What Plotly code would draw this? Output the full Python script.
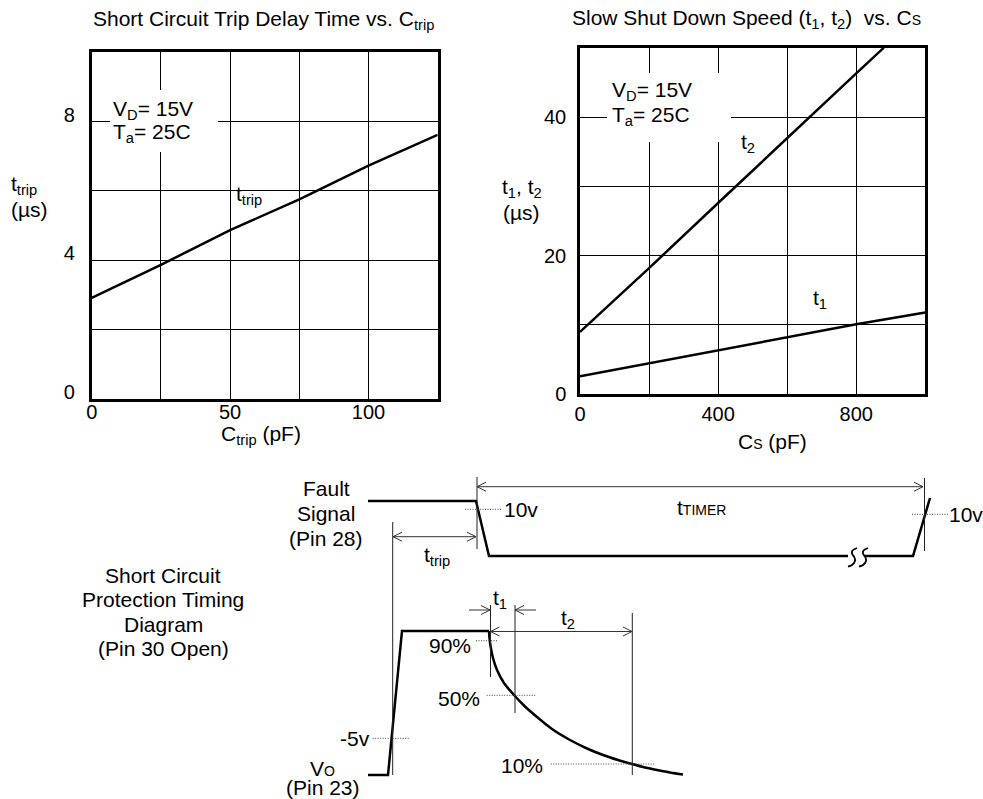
import plotly.graph_objects as go

W, H = 983, 799
FONT = "Liberation Sans, Arial, Helvetica, sans-serif"
BLACK = "#000000"

# ---------------- Chart 1: Short Circuit Trip Delay Time vs. Ctrip ----------------
ctrip_pf = [0, 25, 50, 75, 100, 125]
ttrip_us = [2.92, 3.87, 4.87, 5.76, 6.73, 7.62]
c1_xticks = [0, 25, 50, 75, 100, 125]
c1_xlabels = ["0", "", "50", "", "100", ""]
c1_yticks = [0, 2, 4, 6, 8, 10]
c1_ylabels = ["0", "", "4", "", "8", ""]

# ---------------- Chart 2: Slow Shut Down Speed (t1, t2) vs. Cs ----------------
cs_t1_pf = [0, 200, 400, 600, 800, 1000]
t1_us = [2.6, 4.5, 6.4, 8.2, 10.1, 11.8]
cs_t2_pf = [0, 200, 400, 600, 800, 880]
t2_us = [9.0, 18.2, 27.6, 37.0, 46.3, 50.0]
c2_xticks = [0, 200, 400, 600, 800, 1000]
c2_xlabels = ["0", "", "400", "", "800", ""]
c2_yticks = [0, 10, 20, 30, 40, 50]
c2_ylabels = ["0", "", "20", "", "40", ""]

# ---------------- Timing diagram (diagram units = page pixels) ----------------
fault_a_x = [368, 476, 489, 848]
fault_a_y = [501, 501, 556, 556]
fault_b_x = [865, 913, 930]
fault_b_y = [556, 556, 498]
break1_x = [857, 852.5, 852, 854.5, 855, 852, 848]
break1_y = [548, 550.5, 553.5, 557.5, 561, 565, 566.5]
break_dx = 11
pulse_x = [368, 388, 402, 489]
pulse_y = [775, 775, 631, 631]
decay_x = [489, 489.5, 490.7, 493, 497, 504, 514, 525, 537, 552, 570, 587, 603, 618, 632, 645, 657, 670, 683]
decay_y = [631, 638, 647, 658, 670, 683, 695, 706.5, 717, 729, 740, 748.5, 755, 760, 764, 767.5, 770, 772.5, 774.5]

# thin vertical markers: x, y_top, y_bottom
vmark_x = [477, 924.5, 392.7, 490.5, 515, 632.3]
vmark_top = [477, 478, 522, 605, 605, 613]
vmark_bot = [549, 551, 775, 677, 713, 775]

# dotted level lines: x0, x1, y
dot_x0 = [465, 912, 372.7, 476, 486.7, 550.7]
dot_x1 = [501.7, 948, 409.3, 498.3, 536, 655]
dot_y = [509.3, 514.3, 738.3, 640.7, 695.3, 764]

# dimension arrows: x_start, x_end, y, head at start, head at end
arr_x0 = [477, 393, 469, 536, 490.5]
arr_x1 = [923, 476, 490, 515, 632]
arr_y = [486.7, 536.7, 610, 610, 631.5]
arr_h0 = [True, True, False, False, True]
arr_h1 = [True, True, True, True, True]

fig = go.Figure()

# chart traces
fig.add_trace(go.Scatter(x=ctrip_pf, y=ttrip_us, mode="lines",
                         line=dict(color=BLACK, width=2.5), xaxis="x", yaxis="y",
                         hoverinfo="skip"))
fig.add_trace(go.Scatter(x=cs_t2_pf, y=t2_us, mode="lines",
                         line=dict(color=BLACK, width=2.5), xaxis="x2", yaxis="y2",
                         hoverinfo="skip"))
fig.add_trace(go.Scatter(x=cs_t1_pf, y=t1_us, mode="lines",
                         line=dict(color=BLACK, width=2.5), xaxis="x2", yaxis="y2",
                         hoverinfo="skip"))

# diagram traces
def dline(xs, ys, width=2.5, color=BLACK, dash=None, shape="linear"):
    fig.add_trace(go.Scatter(x=xs, y=ys, mode="lines",
                             line=dict(color=color, width=width, dash=dash, shape=shape),
                             xaxis="x3", yaxis="y3", hoverinfo="skip"))

dline(fault_a_x, fault_a_y)
dline(fault_b_x, fault_b_y)
dline(pulse_x, pulse_y)
dline(decay_x, decay_y, shape="spline")
dline(break1_x, break1_y, width=1.8, shape="spline")
dline([v + break_dx for v in break1_x], break1_y, width=1.8, shape="spline")

vx, vy = [], []
for x, t, b in zip(vmark_x, vmark_top, vmark_bot):
    vx += [x, x, None]
    vy += [t, b, None]
dline(vx, vy, width=1, color="#222222")

dx, dy = [], []
for a, b, y in zip(dot_x0, dot_x1, dot_y):
    dx += [a, b, None]
    dy += [y, y, None]
dline(dx, dy, width=1, color="#444444", dash="1px,1.5px")

ax_, ay_ = [], []
HL, HW = 9, 4.5
for x0, x1, y, h0, h1 in zip(arr_x0, arr_x1, arr_y, arr_h0, arr_h1):
    ax_ += [x0, x1, None]
    ay_ += [y, y, None]
    d = 1 if x1 > x0 else -1
    if h1:
        ax_ += [x1 - d * HL, x1, x1 - d * HL, None]
        ay_ += [y - HW, y, y + HW, None]
    if h0:
        ax_ += [x0 + d * HL, x0, x0 + d * HL, None]
        ay_ += [y - HW, y, y + HW, None]
dline(ax_, ay_, width=1, color="#333333")

# white label boxes over the grids
shapes = [
    dict(type="rect", xref="x3", yref="y3", x0=110, x1=218, y0=90, y1=152,
         fillcolor="white", line=dict(width=0), layer="above"),
    dict(type="rect", xref="x3", yref="y3", x0=607, x1=731, y0=73, y1=142,
         fillcolor="white", line=dict(width=0), layer="above"),
]

def small(s, px=14):
    return f"<span style='font-size:{px}px'>{s}</span>"

annotations = []
def txt(x, y, s, size=21, xanchor="center"):
    annotations.append(dict(x=x, y=y, xref="x3", yref="y3", text=s, showarrow=False,
                            xanchor=xanchor, yanchor="middle",
                            font=dict(family=FONT, size=size, color=BLACK)))

# chart titles and labels
txt(263, 20, "Short Circuit Trip Delay Time vs. C<sub>trip</sub>")
txt(746, 19, "Slow Shut Down Speed (t<sub>1</sub>, t<sub>2</sub>)  vs. C" + small("S"))
txt(24, 185, "t<sub>trip</sub>")
txt(29, 209, "(µs)")
txt(522, 188, "t<sub>1</sub>, t<sub>2</sub>")
txt(521, 212, "(µs)")
txt(261, 435, "C<sub>trip</sub> (pF)")
txt(772, 441, "C" + small("S") + " (pF)")
txt(249, 195, "t<sub>trip</sub>")
txt(748, 143, "t<sub>2</sub>")
txt(820, 299, "t<sub>1</sub>")
txt(111, 110, "V<sub>D</sub>= 15V", xanchor="left")
txt(111, 133, "T<sub>a</sub>= 25C", xanchor="left")
txt(610, 91, "V<sub>D</sub>= 15V", xanchor="left")
txt(610, 116, "T<sub>a</sub>= 25C", xanchor="left")

# diagram text
for s, y in zip(["Fault", "Signal", "(Pin 28)"], [488, 513, 538]):
    txt(326, y, s)
for s, y in zip(["Short Circuit", "Protection Timing", "Diagram", "(Pin 30 Open)"],
                [575, 599, 624, 648]):
    txt(163, y, s)
txt(502, 509.5, "10v", xanchor="left")
txt(947, 514.5, "10v", xanchor="left")
txt(372, 738.5, "-5v", xanchor="right")
txt(473, 645, "90%", xanchor="right")
txt(482, 698, "50%", xanchor="right")
txt(545, 765, "10%", xanchor="right")
txt(437, 556, "t<sub>trip</sub>")
txt(701, 507, "t" + small("TIMER"))
txt(500, 599, "t<sub>1</sub>")
txt(568, 619, "t<sub>2</sub>")
txt(322, 768, "V" + small("O"))
txt(322.5, 787, "(Pin 23)")

def frame_axis(domain, rng, tickvals, ticktext, anchor, shift=0, standoff=0):
    return dict(domain=domain, range=rng, tickmode="array", tickvals=tickvals,
                ticktext=ticktext, showgrid=True, gridcolor=BLACK, gridwidth=1,
                showline=True, linecolor=BLACK, linewidth=2.5, mirror=True,
                ticks="", zeroline=False, anchor=anchor, fixedrange=True,
                automargin=False,
                tickfont=dict(family=FONT, size=20, color=BLACK),
                ticklabelshift=shift, ticklabelstandoff=standoff)

fig.update_layout(
    width=W, height=H, autosize=False,
    margin=dict(l=0, r=0, t=0, b=0, pad=0, autoexpand=False),
    paper_bgcolor="white", plot_bgcolor="rgba(0,0,0,0)",
    showlegend=False,
    font=dict(family=FONT, size=20, color=BLACK),
    xaxis=frame_axis([91.7 / W, 437.7 / W], [0, 125], c1_xticks, c1_xlabels, "y", standoff=-7),
    yaxis=frame_axis([1 - 399 / H, 1 - 52.3 / H], [0, 10], c1_yticks, c1_ylabels, "x",
                     shift=-7, standoff=10),
    xaxis2=frame_axis([580 / W, 925.3 / W], [0, 1000], c2_xticks, c2_xlabels, "y2", standoff=0),
    yaxis2=frame_axis([1 - 394.3 / H, 1 - 47.7 / H], [0, 50], c2_yticks, c2_ylabels, "x2",
                      standoff=7),
    xaxis3=dict(domain=[0, 1], range=[0, W], visible=False, anchor="y3", fixedrange=True,
                automargin=False),
    yaxis3=dict(domain=[0, 1], range=[H, 0], visible=False, anchor="x3", fixedrange=True,
                automargin=False),
    shapes=shapes,
    annotations=annotations,
)

fig.write_html("out.html")
